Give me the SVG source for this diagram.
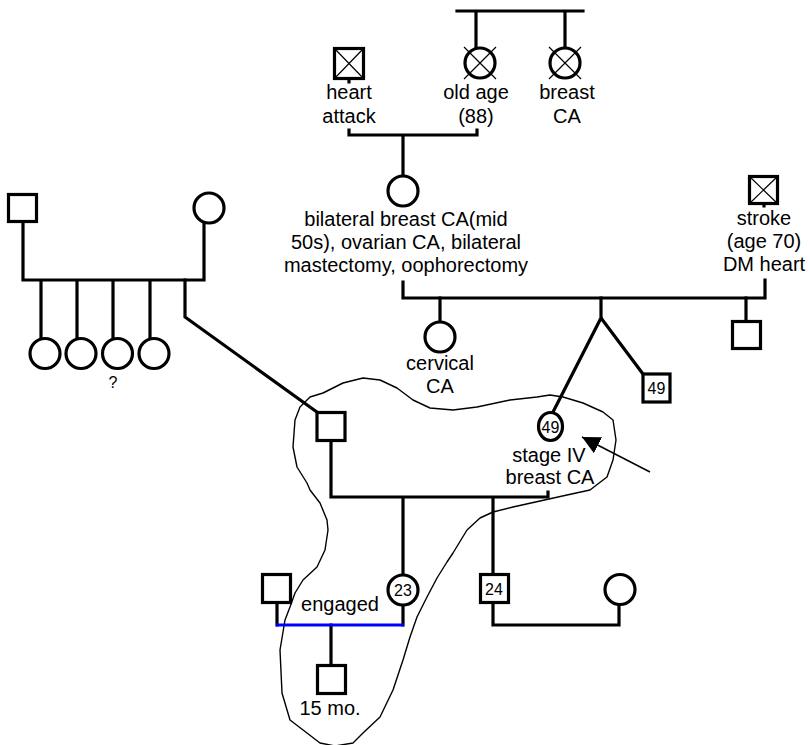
<svg xmlns="http://www.w3.org/2000/svg" width="810" height="745" viewBox="0 0 810 745">
<defs>
<style>
.sq{fill:#fff;stroke:#000;stroke-width:3.2}
.ci{fill:#fff;stroke:#000;stroke-width:3.2}
.x{stroke:#000;stroke-width:1.2;fill:none}
.ln{stroke:#000;stroke-width:3.2;fill:none;stroke-linecap:square}
.bl{stroke:#0000ff;stroke-width:3.2;fill:none}
.t{font-family:"Liberation Sans",Arial,Helvetica,sans-serif;font-size:20px;fill:#000;text-anchor:middle}
.n{font-family:"Liberation Sans",Arial,Helvetica,sans-serif;font-size:16px;fill:#000;text-anchor:middle}
.outline{fill:none;stroke:#000;stroke-width:1.4;stroke-linejoin:round}
</style>
<marker id="ah" viewBox="0 0 18 18" refX="18" refY="9" markerWidth="18" markerHeight="18" markerUnits="userSpaceOnUse" orient="auto">
<path d="M0,0 L18,9 L0,18 z" fill="#000"/>
</marker>
</defs>
<rect width="810" height="745" fill="#fff"/>

<path class="outline" d="M300,407 L310,397 L323,393 L343,383 L363,378 L380,380 L397,388 L413,400 L430,408 L453,410 L477,407 L510,400 L537,397 L550,395 L563,397 L583,403 L603,412 L613,420 L616,440 L613,460 L607,477 L590,490 L567,495 L540,501 L513,507 L493,512 L480,518 L467,530 L453,553 L447,562 L437,578 L427,597 L417,617 L410,637 L403,660 L393,690 L380,717 L363,733 L353,743 L335,746 L320,743 L307,733 L290,720 L282,693 L280,650 L285,620 L290,607 L295,593 L303,580 L317,567 L325,550 L328,530 L327,520 L320,503 L310,490 L307,483 L297,467 L293,447 L295,420 Z"/>

<g id="connectors">
<path class="ln" d="M457,11 H583 M476,11 V48 M565,11 V48"/>
<path class="ln" d="M349,130 V135 H477 V130 M403,135 V175"/>
<path class="ln" d="M349,80 V82 M764,204 V206"/>
<path class="ln" d="M403,282 V298 H765 V280"/>
<path class="ln" d="M440,298 V322 M746,298 V320 M601,298 V318 L643,374 M601,318 L553,412"/>
<path class="ln" d="M23,223 V280 H204 V223 M41,280 V338 M77,280 V338 M113,280 V338 M150,280 V338"/>
<path class="ln" d="M185,280 V317 L317,412"/>
<path class="ln" d="M331,441 V497 H548 V492 M403,497 V575 M493,497 V574"/>
<path class="ln" d="M493,603 V625 H619 V605"/>
<path class="ln" d="M277,603 V625 M403,605 V625 M331,625 V664"/>
<path class="bl" d="M276,625 H404"/>
<line x1="650" y1="472" x2="582" y2="437" stroke="#000" stroke-width="1.5" marker-end="url(#ah)"/>
</g>

<g id="gm-heart-attack">
<rect class="sq" x="334.5" y="48.5" width="29" height="30"/>
<path class="x" d="M334.5,48.5 L363.5,78.5 M363.5,48.5 L334.5,78.5"/>
<text class="t" x="349" y="99">heart</text>
<text class="t" x="349" y="123">attack</text>
</g>
<g id="gm-old-age">
<circle class="ci" cx="480" cy="63" r="15"/>
<path class="x" d="M464,47 L496,79 M496,47 L464,79"/>
<text class="t" x="476" y="99">old age</text>
<text class="t" x="476" y="123">(88)</text>
</g>
<g id="great-aunt">
<circle class="ci" cx="565" cy="63" r="15"/>
<path class="x" d="M549,47 L581,79 M581,47 L549,79"/>
<text class="t" x="567" y="99">breast</text>
<text class="t" x="567" y="123">CA</text>
</g>
<g id="grandmother">
<circle class="ci" cx="403" cy="191" r="15"/>
<text class="t" x="406" y="226">bilateral breast CA(mid</text>
<text class="t" x="406" y="249">50s), ovarian CA, bilateral</text>
<text class="t" x="406" y="272">mastectomy, oophorectomy</text>
</g>
<g id="grandfather">
<rect class="sq" x="749.5" y="176.5" width="28" height="27"/>
<path class="x" d="M749.5,176.5 L777.5,203.5 M777.5,176.5 L749.5,203.5"/>
<text class="t" x="764" y="225">stroke</text>
<text class="t" x="764" y="248">(age 70)</text>
<text class="t" x="764" y="271">DM heart</text>
</g>
<g id="aunt-cervical">
<circle class="ci" cx="440" cy="337" r="15"/>
<text class="t" x="440" y="370">cervical</text>
<text class="t" x="440" y="393">CA</text>
</g>
<g id="uncle">
<rect class="sq" x="732.5" y="321.5" width="28" height="27"/>
</g>
<g id="twin-49">
<rect class="sq" x="643" y="374" width="27" height="28" stroke-width="2.5"/>
<text class="n" x="656.5" y="394">49</text>
</g>
<g id="proband">
<ellipse class="ci" cx="550.5" cy="426.5" rx="12" ry="14"/>
<text class="n" x="550.5" y="433">49</text>
<text class="t" x="549" y="462">stage IV</text>
<text class="t" x="550" y="484">breast CA</text>
</g>
<g id="pgf">
<rect class="sq" x="8.5" y="194.5" width="28" height="27"/>
</g>
<g id="pgm">
<circle class="ci" cx="209" cy="208" r="15"/>
</g>
<g id="sister1"><circle class="ci" cx="45" cy="353.5" r="15"/></g>
<g id="sister2"><circle class="ci" cx="81" cy="353.5" r="15"/></g>
<g id="sister3"><circle class="ci" cx="117.5" cy="353.5" r="15"/><text class="n" x="113" y="388">?</text></g>
<g id="sister4"><circle class="ci" cx="154" cy="353.5" r="15"/></g>
<g id="husband">
<rect class="sq" x="317" y="412.5" width="28" height="28"/>
</g>
<g id="daughter-23">
<circle class="ci" cx="403" cy="590" r="15"/>
<text class="n" x="403" y="596">23</text>
</g>
<g id="son-24">
<rect class="sq" x="480.5" y="574.5" width="28" height="28"/>
<text class="n" x="494" y="595">24</text>
</g>
<g id="son-partner">
<circle class="ci" cx="620" cy="589.5" r="15"/>
</g>
<g id="fiance">
<rect class="sq" x="262.5" y="574.5" width="28" height="28"/>
<text class="t" x="340" y="611">engaged</text>
</g>
<g id="grandson">
<rect class="sq" x="317.5" y="665.5" width="28" height="28"/>
<text class="t" x="330" y="715">15 mo.</text>
</g>
</svg>
